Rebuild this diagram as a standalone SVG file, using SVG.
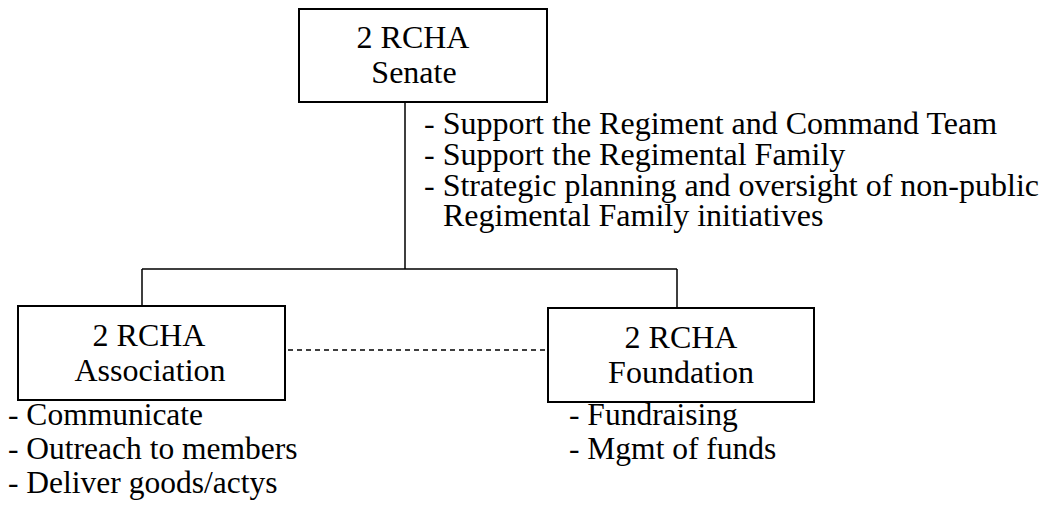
<svg xmlns="http://www.w3.org/2000/svg" width="1041" height="508" viewBox="0 0 1041 508">
<style>
  .box { fill: #fff; stroke: #000; stroke-width: 2; }
  .line { fill: none; stroke: #000; stroke-width: 1.5; }
  .dash { fill: none; stroke: #000; stroke-width: 1.5; stroke-dasharray: 5 4; }
  text { font-family: "Liberation Serif", "Times New Roman", serif; fill: #000; }
  .t { font-size: 32px; text-anchor: middle; }
  .b { font-size: 32px; }
  .c { font-size: 31.5px; }
</style>
<g id="connectors">
  <path class="line" d="M405 102 V269 M142 269 H677 M142 269 V306 M677 269 V308"/>
  <path class="dash" d="M288 350 H546"/>
</g>
<g id="senate">
  <rect class="box" x="299" y="9" width="248" height="93"/>
  <text class="t" x="413" y="48">2 RCHA</text>
  <text class="t" x="414" y="83">Senate</text>
  <text class="b" x="424" y="134">- Support the Regiment and Command Team</text>
  <text class="b" x="424" y="165">- Support the Regimental Family</text>
  <text class="b" x="424" y="196">- Strategic planning and oversight of non-public</text>
  <text class="b" x="443" y="226">Regimental Family initiatives</text>
</g>
<g id="association">
  <rect class="box" x="18" y="306" width="267" height="94"/>
  <text class="t" x="149" y="346">2 RCHA</text>
  <text class="t" x="150" y="381">Association</text>
  <text class="c" x="8" y="425">- Communicate</text>
  <text class="c" x="8" y="459">- Outreach to members</text>
  <text class="c" x="8" y="493">- Deliver goods/actys</text>
</g>
<g id="foundation">
  <rect class="box" x="548" y="308" width="266" height="94"/>
  <text class="t" x="681" y="348">2 RCHA</text>
  <text class="t" x="681" y="383">Foundation</text>
  <text class="c" x="569" y="425">- Fundraising</text>
  <text class="c" x="569" y="459">- Mgmt of funds</text>
</g>
</svg>
